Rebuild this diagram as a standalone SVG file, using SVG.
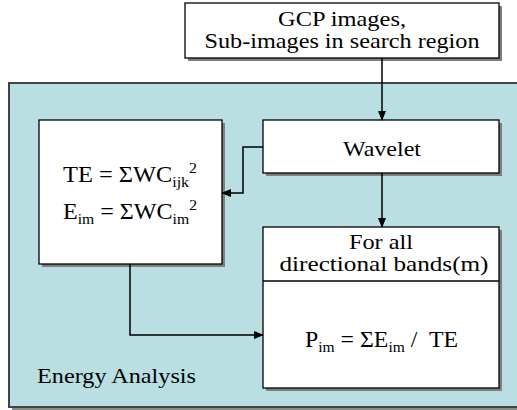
<svg xmlns="http://www.w3.org/2000/svg" width="517" height="410" viewBox="0 0 517 410">
<defs>
<marker id="arr" markerWidth="10" markerHeight="10" refX="9" refY="5" orient="auto" markerUnits="userSpaceOnUse">
<path d="M0,1 L10,5 L0,9 Z" fill="#000"/>
</marker>
<style>
.box{fill:#fff;stroke:#000;stroke-width:1.3}
.sh{fill:#7f7f7f}
.c{fill:none;stroke:#000;stroke-width:1.5}
</style>
</defs>
<rect x="0" y="0" width="517" height="410" fill="#fff"/>
<g id="energy-analysis">
<rect x="12" y="86" width="520" height="324" fill="#8a8a8a"/>
<rect x="9" y="83" width="520" height="324" fill="#b9dfe2" stroke="#444" stroke-width="2"/>
<text font-family="Liberation Serif, serif" font-size="21" x="37" y="383" textLength="159" lengthAdjust="spacingAndGlyphs">Energy Analysis</text>
</g>
<g id="gcp" font-family="Liberation Serif, serif" font-size="21" text-anchor="middle">
<rect class="sh" x="188" y="6" width="314" height="55"/>
<rect class="box" x="185" y="3" width="314" height="55"/>
<text x="342" y="26" textLength="128" lengthAdjust="spacingAndGlyphs">GCP images,</text>
<text x="342" y="48" textLength="275" lengthAdjust="spacingAndGlyphs">Sub-images in search region</text>
</g>
<g id="wavelet" font-family="Liberation Serif, serif" font-size="21" text-anchor="middle">
<rect class="sh" x="266" y="123" width="236" height="53"/>
<rect class="box" x="263" y="120" width="236" height="53"/>
<text x="382" y="156" textLength="78" lengthAdjust="spacingAndGlyphs">Wavelet</text>
</g>
<g id="energy" font-family="Liberation Serif, serif" font-size="23">
<rect class="sh" x="42" y="123" width="183" height="144"/>
<rect class="box" x="39" y="120" width="183" height="144"/>
<text x="63" y="182" textLength="134" lengthAdjust="spacingAndGlyphs">TE = ΣWC<tspan font-size="15" dy="5">ijk</tspan><tspan font-size="15" dy="-14">2</tspan></text>
<text x="63" y="219" textLength="134" lengthAdjust="spacingAndGlyphs">E<tspan font-size="15" dy="5">im</tspan><tspan dy="-5"> = ΣWC</tspan><tspan font-size="15" dy="5">im</tspan><tspan font-size="15" dy="-14">2</tspan></text>
</g>
<g id="bands" font-family="Liberation Serif, serif" font-size="21">
<rect class="sh" x="266" y="230" width="236" height="161"/>
<rect class="box" x="263" y="227" width="236" height="161"/>
<line x1="263" y1="281" x2="499" y2="281" stroke="#000" stroke-width="1.3"/>
<text x="381" y="249" text-anchor="middle" textLength="64" lengthAdjust="spacingAndGlyphs">For all</text>
<text x="384" y="271" text-anchor="middle" textLength="209" lengthAdjust="spacingAndGlyphs">directional bands(m)</text>
<text x="305" y="347" font-size="23" xml:space="preserve" textLength="153" lengthAdjust="spacingAndGlyphs">P<tspan font-size="15" dy="5">im</tspan><tspan dy="-5"> = ΣE</tspan><tspan font-size="15" dy="5">im</tspan><tspan dy="-5"> /  TE</tspan></text>
</g>
<g id="connectors">
<path class="c" d="M382,58 V120" marker-end="url(#arr)"/>
<path class="c" d="M263,147 H243 V193 H222" marker-end="url(#arr)"/>
<path class="c" d="M382,173 V227" marker-end="url(#arr)"/>
<path class="c" d="M130,264 V335 H263" marker-end="url(#arr)"/>
</g>
</svg>
